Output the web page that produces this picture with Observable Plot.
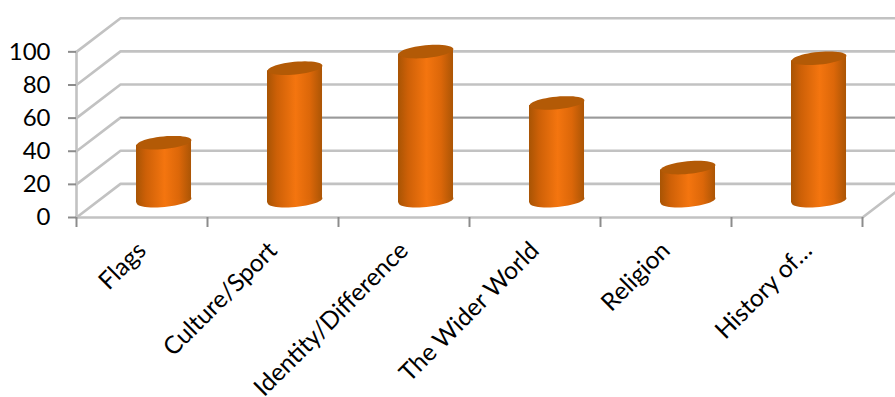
<!DOCTYPE html>
<html>
<head>
<meta charset="utf-8">
<script src="https://cdn.jsdelivr.net/npm/d3@7"></script>
<script src="https://cdn.jsdelivr.net/npm/@observablehq/plot@0.6"></script>
<style>
html,body{margin:0;padding:0;background:#fff;overflow:hidden}
svg{display:block}
</style>
</head>
<body>
<div id="chart"></div>
<script>
const categories = ["Flags","Culture/Sport","Identity/Difference","The Wider World","Religion","History of…"];
const values = [35,80,90,59,20,86];
const gridValues = [0,20,40,60,80,100];
const categoryEdges = [0,1,2,3,4,5,6];

// 3-D wall offset, in axis units
const depthX = 0.336, depthY = 20.3;
const halfWidth = 0.21, tiltY = 1.5;
const barX = i => i + 0.5 + depthX / 2;
const baseY = depthY / 2;

const wallLines = gridValues.flatMap(v => [
  {g: v, x: 0, y: v},
  {g: v, x: depthX, y: v + depthY},
  {g: v, x: 6 + depthX, y: v + depthY}
]);
const darkerLine = wallLines.filter(d => d.g === 40 && d.x > 0);
const floorEdge = [{g: "f", x: 0, y: 0},{g: "f", x: 6, y: 0},{g: "f", x: 6 + depthX, y: depthY}];
const leftEdge = [{x: 0, y: 0},{x: 0, y: 100}];

const bodies = values.flatMap((v, i) => [
  {c: i, x: barX(i) - halfWidth, y1: baseY - tiltY, y2: v + baseY - tiltY},
  {c: i, x: barX(i) + halfWidth, y1: baseY + tiltY, y2: v + baseY + tiltY}
]);
const bars = values.map((v, i) => ({x: barX(i), base: baseY, top: v + baseY}));

const ellipse = {
  draw(ctx, size) {
    const rx = Math.sqrt(size / Math.PI), ry = rx * 0.23, a = -5.5 * Math.PI / 180;
    const n = 48;
    for (let k = 0; k < n; ++k) {
      const t = 2 * Math.PI * k / n;
      const ex = rx * Math.cos(t), ey = ry * Math.sin(t);
      const px = ex * Math.cos(a) - ey * Math.sin(a), py = ex * Math.sin(a) + ey * Math.cos(a);
      if (k) ctx.lineTo(px, py); else ctx.moveTo(px, py);
    }
    ctx.closePath();
  }
};

const labelTicks = categories.map((c, i) => i + 0.5);
const labelOf = d => categories[d - 0.5];
const grey = "#c2c2c2";
const chart = Plot.plot({
  width: 895,
  height: 397,
  marginLeft: 76,
  marginRight: 0,
  marginTop: 0,
  marginBottom: 180,
  style: {background: "#fff", fontFamily: "Lato, sans-serif", color: "#000", overflow: "hidden"},
  x: {type: "linear", domain: [0, 819 / 131]},
  y: {type: "linear", domain: [0, 131]},
  marks: [
    () => {
      const ns = "http://www.w3.org/2000/svg";
      const defs = document.createElementNS(ns, "defs");
      const g = document.createElementNS(ns, "linearGradient");
      g.setAttribute("id", "cyl");
      [[0,"#a85404"],[0.18,"#cd6007"],[0.52,"#f4750f"],[0.78,"#dc6709"],[1,"#ab5505"]].forEach(([o,c]) => {
        const s = document.createElementNS(ns, "stop");
        s.setAttribute("offset", o); s.setAttribute("stop-color", c); g.appendChild(s);
      });
      defs.appendChild(g);
      return defs;
    },
    Plot.line(wallLines, {x: "x", y: "y", z: "g", stroke: grey, strokeWidth: 2.6}),
    Plot.line(darkerLine, {x: "x", y: "y", stroke: "#9a9a9a", strokeWidth: 1.4}),
    Plot.line(floorEdge, {x: "x", y: "y", z: "g", stroke: grey, strokeWidth: 2.6}),
    Plot.line(leftEdge, {x: "x", y: "y", stroke: grey, strokeWidth: 2.6}),
    Plot.dot(bars, {x: "x", y: "base", r: 27.5, symbol: ellipse, fill: "url(#cyl)", stroke: "none"}),
    Plot.areaY(bodies, {x: "x", y1: "y1", y2: "y2", z: "c", fill: "url(#cyl)"}),
    Plot.dot(bars, {x: "x", y: "top", r: 27.5, symbol: ellipse, fill: "#b35a06", stroke: "none"}),
    Plot.axisY({ticks: gridValues, tickSize: 8, tickPadding: 18, stroke: "#8c8c8c", strokeWidth: 2, fill: "#000", fontSize: 24, label: null, tickFormat: d3.format("d")}),
    Plot.axisX({ticks: categoryEdges, tickSize: 10, tickFormat: () => "", stroke: "#8c8c8c", strokeWidth: 2, label: null}),
    Plot.axisX({ticks: labelTicks.slice(0, -1), tickFormat: labelOf, tickSize: 0, tickPadding: 29, tickRotate: -45, fontSize: 24.5, fill: "#000", label: null}),
    Plot.axisX({ticks: labelTicks.slice(-1), tickFormat: labelOf, tickSize: 0, tickPadding: 29, tickRotate: -45, dx: 11, fontSize: 24.5, fill: "#000", label: null})
  ]
});
document.getElementById("chart").appendChild(chart);
</script>
</body>
</html>
